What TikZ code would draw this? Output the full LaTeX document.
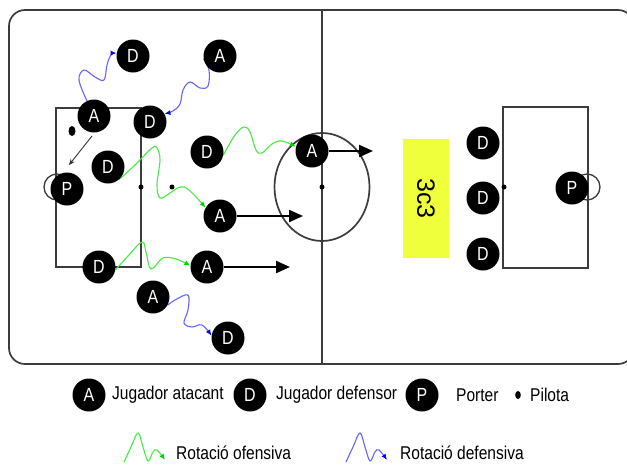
\documentclass[tikz,border=0pt]{standalone}
\usepackage{fontspec}
\setmainfont{Liberation Sans}
\newfontfamily\narrowfont{Liberation Sans}[FakeStretch=0.84]
\usetikzlibrary{arrows.meta}
\pgfdeclarelayer{bg}\pgfdeclarelayer{mid}\pgfsetlayers{bg,mid,main}
\definecolor{fieldline}{RGB}{60,60,60}
\definecolor{wgreen}{RGB}{70,235,70}
\definecolor{wblue}{RGB}{100,100,255}
\definecolor{tipgreen}{RGB}{0,210,0}
\definecolor{tipblue}{RGB}{0,0,255}
\definecolor{ybox}{RGB}{240,255,60}
\begin{document}
\begin{tikzpicture}[x=1pt,y=-1pt,
  player/.style={circle,fill=black,inner sep=0pt,minimum size=33pt,text=white,font=\narrowfont\fontsize{19}{19}\selectfont},
  fl/.style={draw=fieldline,line width=1.7pt},
  gl/.style={draw=fieldline,line width=1.3pt},
  wg/.style={wgreen,line width=1.1pt,-{Latex[length=6pt,width=5pt,color=tipgreen]}},
  wb/.style={wblue,line width=1.1pt,-{Latex[length=6pt,width=5pt,color=tipblue]}},
  run/.style={black,line width=2.2pt,-{Triangle[length=14pt,width=12pt]}},
  lbl/.style={anchor=west,inner sep=0pt,font=\narrowfont\fontsize{18.5}{18.5}\selectfont},
  dotc/.style={fill=black},
]
\useasboundingbox (0,0) rectangle (627,464);

\begin{pgfonlayer}{bg}
  \fill[white] (0,0) rectangle (627,464);
  \begin{scope}
    \clip (0,0) rectangle (627,464);
    \draw[fl,rounded corners=16pt] (9,10) rectangle (634,364);
    \draw[fl] (322,10) -- (322,364);
    \draw[fl] (322,187) ellipse (47.5pt and 54pt);
    \draw[gl] (56,108) rectangle (141,267);
    \draw[gl] (503,107) rectangle (588,268);
    \draw[gl] (57,187) circle (13pt);
    \draw[gl] (587,187) circle (13pt);
    \fill[dotc] (322,187) circle (2.5pt);
    \fill[dotc] (141,187) circle (2.5pt);
    \fill[dotc] (172,187) circle (2.5pt);
    \fill[dotc] (504,187) circle (2.5pt);
    \fill[dotc] (72,131) ellipse (3.5pt and 5pt);
  \end{scope}
\end{pgfonlayer}

% players
\node[player] (D1) at (133,56) {D};
\node[player] (A1) at (220,56) {A};
\node[player] (A2) at (94,116) {A};
\node[player] (D2) at (150,122) {D};
\node[player] (D3) at (207,152) {D};
\node[player] (D4) at (108,167) {D};
\node[player] (P1) at (67,189) {P};
\node[player] (A3) at (220,216) {A};
\node[player] (D5) at (99,267) {D};
\node[player] (A4) at (207,267) {A};
\node[player] (A5) at (153,297) {A};
\node[player] (D6) at (228,338) {D};
\node[player] (AM) at (312,151) {A};
\node[player] (DR1) at (483,143) {D};
\node[player] (DR2) at (483,198) {D};
\node[player] (DR3) at (483,254) {D};
\node[player] (P2) at (572,188) {P};

\node[fill=ybox,minimum width=46pt,minimum height=119pt,inner sep=0pt] (box) at (426,198.5) {};
\node[rotate=-90,font=\fontsize{25}{25}\selectfont] (boxtxt) at (box.center) {3c3};

% runs
\coordinate (r0) at (373,151);
\coordinate (r1) at (303,216);
\coordinate (r2) at (290,267);
\draw[run] (AM) -- (r0);
\draw[run] (A3) -- (r1);
\draw[run] (A4) -- (r2);
\coordinate (pa) at (92,136);
\coordinate (pb) at (69,165);
\draw[black!80,line width=0.9pt,-{Stealth[length=6pt,width=5pt]}] (pa) -- (pb);

% rotations
\begin{pgfonlayer}{mid}
\draw[wb] plot[smooth,tension=0.6] coordinates {(A2.115) (79,80) (84,70) (95,77) (104,80) (107,65) (111,55) (D1.170)};
\draw[wb] plot[smooth,tension=0.6] coordinates {(A1.190) (209,70) (208,86) (200,88) (190,82) (183,90) (180,104) (173,111) (D2.30)};
\draw[wb] plot[smooth,tension=0.6] coordinates {(A5.-30) (175,300) (188,295) (188,310) (184,323) (192,327) (202,325) (D6.172)};
\draw[wg] plot[smooth,tension=0.6] coordinates {(D3.-10) (235,135) (244,127) (250,132) (256,150) (262,153) (272,144) (282,141) (AM.165)};
\draw[wg] plot[smooth,tension=0.6] coordinates {(D4.-50) (135,165) (152,148) (157,148) (160,160) (157,185) (160,198) (170,193) (180,187) (189,190) (A3.150)};
\draw[wg] plot[smooth,tension=0.6] coordinates {(D5.-10) (128,256) (142,242) (146,252) (151,269) (163,258) (176,259) (A4.175)};
\end{pgfonlayer}

% legend
\node[player] (LA) at (89,395) {A};
\node[lbl] (LAt) at (112,395) {Jugador atacant};
\node[player] (LD) at (250,395) {D};
\node[lbl] (LDt) at (276,395) {Jugador defensor};
\node[player] (LP) at (422,395) {P};
\node[lbl] (LPt) at (456,395) {Porter};
\fill[dotc] (518,395) ellipse (2.8pt and 4pt);
\node[lbl] (LBt) at (530,395) {Pilota};

\draw[wg] plot[smooth,tension=0.6] coordinates {(124,462) (131,447) (138,433) (143,447) (148,461) (153,452) (157,450) (165,460)};
\node[lbl] (LGt) at (176,453) {Rotació ofensiva};
\draw[wb] plot[smooth,tension=0.6] coordinates {(346,462) (353,447) (360,433) (365,447) (370,461) (375,452) (379,450) (387,460)};
\node[lbl] (LBlt) at (400,453) {Rotació defensiva};
\end{tikzpicture}
\end{document}
